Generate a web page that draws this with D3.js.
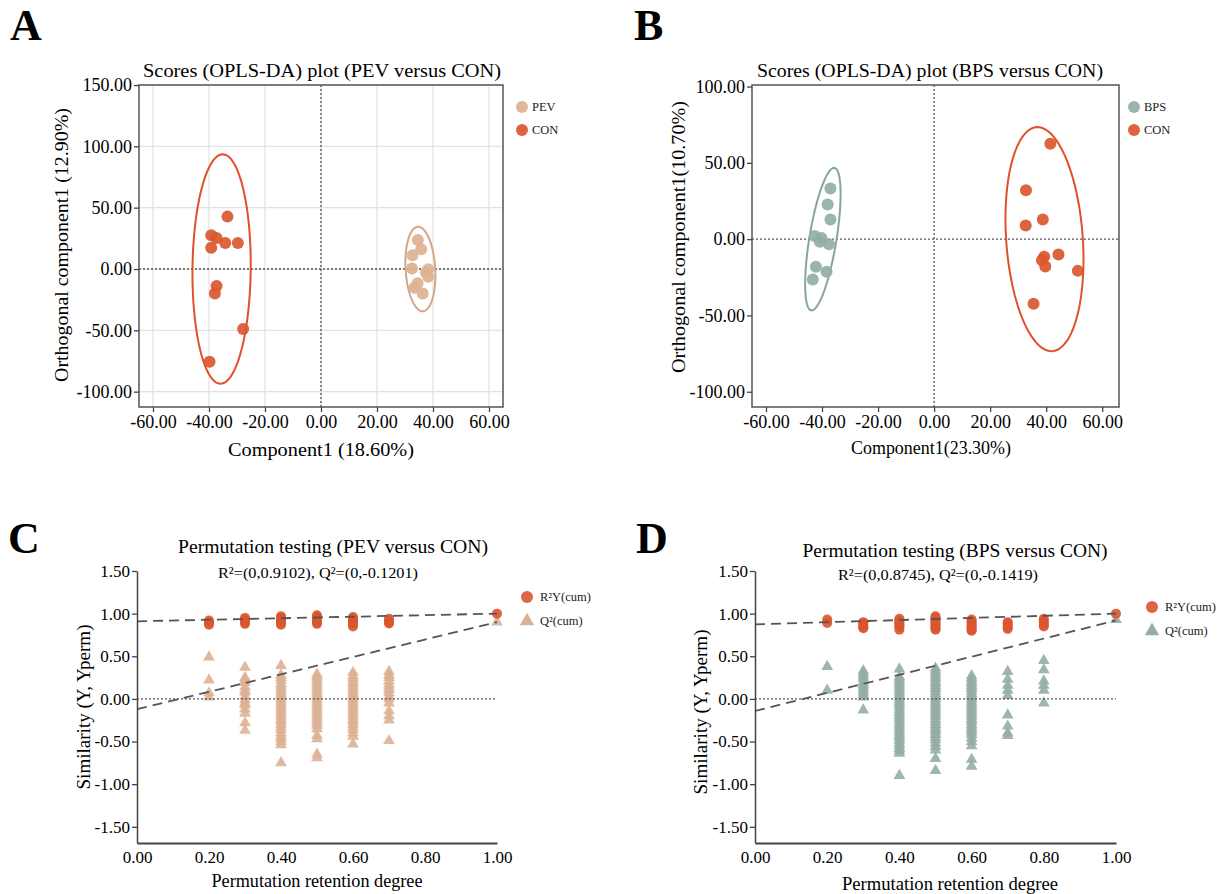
<!DOCTYPE html>
<html><head><meta charset="utf-8">
<script src="https://cdn.jsdelivr.net/npm/d3@7"></script>
<style>
body{margin:0;background:#fff;}
svg{display:block;font-family:"Liberation Serif","Times New Roman",serif;}
</style>
</head><body>
<svg id="chart" width="1217" height="894"></svg>
<script>
// ---------------- DATA ----------------
const scoreXTicks = [-60, -40, -20, 0, 20, 40, 60];
const scoreYTicksA = [150, 100, 50, 0, -50, -100];
const scoreYTicksB = [100, 50, 0, -50, -100];
const permXTicks = [0, 0.2, 0.4, 0.6, 0.8, 1.0];
const permYTicks = [1.5, 1.0, 0.5, 0, -0.5, -1.0, -1.5];

// Panel A scores [component1, orthogonal component1]
const pevScoresA = [[34.6,23.7],[35.8,16.1],[32.7,11.2],[32.5,0.5],[38.3,-0.3],[37.5,-3.0],[38.3,-6.3],[34.5,-11.7],[33.4,-15.2],[36.3,-19.9]];
const conScoresA = [[-33.4,42.7],[-39.2,27.5],[-37.3,25.3],[-39.2,17.4],[-34.2,21.2],[-29.7,21.2],[-37.3,-13.9],[-37.9,-19.9],[-27.8,-48.9],[-39.8,-75.6]];
// Panel B scores
const bpsScoresB = [[-37.0,33.2],[-38.0,22.7],[-37.0,12.9],[-42.6,2.0],[-40.2,0.7],[-40.8,-1.7],[-37.5,-3.3],[-42.2,-18.1],[-38.4,-21.4],[-43.3,-26.5]];
const conScoresB = [[41.5,62.5],[32.8,32.1],[38.8,12.9],[32.7,9.0],[44.4,-10.1],[39.3,-11.6],[38.5,-13.8],[39.7,-17.9],[51.3,-20.8],[35.5,-42.4]];
// Confidence ellipses: [centerX, centerY, halfWidth, halfHeight, topShift]
const ellipsePevA = [35.5, 0, 5.3, 34.4, -0.8];
const ellipseConA = [-35.5, 0, 10.4, 93.5, 0.4];
const ellipseBpsB = [-39.7, 0, 4.9, 46.7, 4.0];
const ellipseConB = [39.4, 0, 13.7, 73.4, -2.5];

// Panel C permutation: [retention degree, values]
const r2C = [
  [0.2, [0.92, 0.90, 0.89, 0.87]],
  [0.3, [0.95, 0.93, 0.91, 0.90, 0.88]],
  [0.4, [0.97, 0.95, 0.93, 0.91, 0.89, 0.87]],
  [0.5, [0.98, 0.96, 0.94, 0.92, 0.90, 0.88]],
  [0.6, [0.96, 0.94, 0.92, 0.90, 0.88, 0.85]],
  [0.7, [0.94, 0.92, 0.90, 0.885]],
  [1.0, [1.0]]
];
const q2C = [
  [0.2, [0.49, 0.22, 0.07, 0.02]],
  [0.3, [0.37, 0.25, 0.22, 0.19, 0.14, 0.10, 0.08, 0.03, -0.01, -0.05, -0.07, -0.12, -0.17, -0.28, -0.37]],
  [0.4, [0.39, 0.28, 0.25, 0.22, 0.18, 0.15, 0.12, 0.09, 0.06, 0.03, 0.0, -0.03, -0.06, -0.09, -0.12, -0.15, -0.18, -0.21, -0.24, -0.27, -0.30, -0.33, -0.36, -0.40, -0.44, -0.47, -0.50, -0.54, -0.75]],
  [0.5, [0.29, 0.26, 0.23, 0.20, 0.17, 0.14, 0.11, 0.08, 0.05, 0.02, -0.01, -0.04, -0.07, -0.10, -0.13, -0.16, -0.19, -0.22, -0.25, -0.28, -0.31, -0.35, -0.43, -0.47, -0.65, -0.69]],
  [0.6, [0.31, 0.27, 0.24, 0.21, 0.18, 0.15, 0.12, 0.09, 0.06, 0.03, 0.0, -0.03, -0.06, -0.09, -0.12, -0.15, -0.18, -0.21, -0.24, -0.27, -0.30, -0.33, -0.36, -0.40, -0.44, -0.53]],
  [0.7, [0.32, 0.28, 0.25, 0.21, 0.17, 0.14, 0.11, 0.07, 0.03, 0.0, -0.05, -0.14, -0.20, -0.25, -0.49]],
  [1.0, [0.90]]
];
const r2LineC = [[0, 0.9102], [1, 1.0]];
const q2LineC = [[0, -0.1201], [1, 0.90]];

// Panel D permutation
const r2D = [
  [0.2, [0.93, 0.89]],
  [0.3, [0.90, 0.88, 0.86, 0.84, 0.83]],
  [0.4, [0.94, 0.92, 0.90, 0.88, 0.86, 0.84, 0.81]],
  [0.5, [0.97, 0.95, 0.93, 0.91, 0.89, 0.87, 0.85, 0.83, 0.81]],
  [0.6, [0.93, 0.91, 0.89, 0.87, 0.85, 0.83, 0.81, 0.80]],
  [0.7, [0.90, 0.88, 0.86, 0.84, 0.82]],
  [0.8, [0.94, 0.92, 0.90, 0.87, 0.85]],
  [1.0, [1.0]]
];
const q2D = [
  [0.2, [0.38, 0.10]],
  [0.3, [0.33, 0.30, 0.27, 0.24, 0.20, 0.17, 0.14, 0.11, 0.08, 0.05, 0.02, -0.13]],
  [0.4, [0.35, 0.26, 0.23, 0.20, 0.17, 0.14, 0.11, 0.08, 0.05, 0.02, -0.01, -0.04, -0.07, -0.10, -0.13, -0.16, -0.19, -0.22, -0.25, -0.28, -0.31, -0.34, -0.37, -0.40, -0.43, -0.46, -0.49, -0.52, -0.55, -0.58, -0.61, -0.64, -0.90]],
  [0.5, [0.36, 0.33, 0.30, 0.27, 0.24, 0.21, 0.18, 0.15, 0.12, 0.09, 0.06, 0.03, 0.0, -0.03, -0.06, -0.09, -0.12, -0.15, -0.18, -0.21, -0.24, -0.27, -0.30, -0.33, -0.36, -0.39, -0.42, -0.45, -0.48, -0.52, -0.56, -0.60, -0.70, -0.84]],
  [0.6, [0.27, 0.24, 0.21, 0.18, 0.15, 0.12, 0.09, 0.06, 0.03, 0.0, -0.03, -0.06, -0.09, -0.12, -0.15, -0.18, -0.21, -0.24, -0.27, -0.30, -0.33, -0.36, -0.39, -0.42, -0.46, -0.50, -0.55, -0.71, -0.79]],
  [0.7, [0.32, 0.23, 0.16, 0.10, 0.04, -0.19, -0.32, -0.40, -0.43]],
  [0.8, [0.45, 0.34, 0.21, 0.16, 0.10, -0.05]],
  [1.0, [0.93]]
];
const r2LineD = [[0, 0.8745], [1, 1.0]];
const q2LineD = [[0, -0.1419], [1, 0.92]];

// ---------------- STYLE ----------------
const RED = "#D9572F", RED_LINE = "#E0502A";
const TAN = "#DDB193", TAN_LINE = "#D6A487";
const SAGE = "#93AEA5", SAGE_LINE = "#86A69C";
const AXIS = "#444";

const svg = d3.select("#chart");
const fmt = d => d.toFixed(2);

function styleAxis(g, fs) {
  g.selectAll("text").attr("font-family", '"Liberation Serif","Times New Roman",serif')
    .attr("font-size", fs).attr("fill", "#000");
  g.selectAll("line").attr("stroke", AXIS).attr("stroke-width", 1.3);
  g.attr("font-family", null).attr("font-size", null);
}

function label(g, txt, x, y, fs, len, rotate) {
  const t = g.append("text").attr("text-anchor", "middle").attr("font-size", fs).attr("fill", "#000")
    .attr("textLength", len).attr("lengthAdjust", "spacingAndGlyphs").text(txt);
  if (rotate) t.attr("transform", `translate(${x},${y}) rotate(-90)`);
  else t.attr("x", x).attr("y", y);
  return t;
}

function panelLetter(t, x, y) {
  svg.append("text").attr("x", x).attr("y", y).attr("font-size", 44).attr("font-weight", "bold")
    .attr("fill", "#000").text(t);
}

function scorePanel(cfg) {
  const g = svg.append("g");
  const x = d3.scaleLinear().domain(cfg.xDomain).range(cfg.xRange);
  const y = d3.scaleLinear().domain(cfg.yDomain).range(cfg.yRange);
  const [x0, x1] = cfg.xRange, [y0, y1] = cfg.yRange;

  if (cfg.grid) {
    g.selectAll(".gx").data(scoreXTicks).join("line")
      .attr("x1", d => x(d)).attr("x2", d => x(d)).attr("y1", y0).attr("y2", y1)
      .attr("stroke", "#e2e2e2").attr("stroke-width", 1.2);
    g.selectAll(".gy").data(cfg.yTicks).join("line")
      .attr("y1", d => y(d)).attr("y2", d => y(d)).attr("x1", x0).attr("x2", x1)
      .attr("stroke", "#e2e2e2").attr("stroke-width", 1.2);
  }
  g.append("line").attr("x1", x(0)).attr("x2", x(0)).attr("y1", y0).attr("y2", y1)
    .attr("stroke", "#555").attr("stroke-width", 1.3).attr("stroke-dasharray", "2,2");
  g.append("line").attr("y1", y(0)).attr("y2", y(0)).attr("x1", x0).attr("x2", x1)
    .attr("stroke", "#555").attr("stroke-width", 1.3).attr("stroke-dasharray", "2,2");

  const line = d3.line().x(p => x(p[0])).y(p => y(p[1])).curve(d3.curveLinearClosed);
  cfg.groups.forEach(gr => {
    const [cx, cy, rx, ry, sh] = gr.ellipse;
    const pts = d3.range(0, 120).map(i => {
      const t = i / 120 * 2 * Math.PI;
      return [cx + rx * Math.cos(t) + sh * Math.sin(t), cy + ry * Math.sin(t)];
    });
    g.append("path").attr("d", line(pts)).attr("fill", "none")
      .attr("stroke", gr.lineColor).attr("stroke-width", 2);
  });
  cfg.groups.forEach(gr => {
    g.selectAll(null).data(gr.points).join("circle")
      .attr("cx", d => x(d[0])).attr("cy", d => y(d[1])).attr("r", 6)
      .attr("fill", gr.color).attr("fill-opacity", 0.92);
  });
  g.append("rect").attr("x", x0).attr("y", y1).attr("width", x1 - x0).attr("height", y0 - y1)
    .attr("fill", "none").attr("stroke", "#555").attr("stroke-width", 1.5);

  const ax = g.append("g").attr("transform", `translate(0,${y0})`)
    .call(d3.axisBottom(x).tickValues(scoreXTicks).tickFormat(fmt).tickSize(5).tickPadding(3));
  ax.select(".domain").remove();
  styleAxis(ax, 18);
  const ay = g.append("g").attr("transform", `translate(${x0},0)`)
    .call(d3.axisLeft(y).tickValues(cfg.yTicks).tickFormat(fmt).tickSize(5).tickPadding(2));
  ay.select(".domain").remove();
  styleAxis(ay, 18);

  label(g, cfg.title, cfg.titleX, cfg.titleY, 19, cfg.titleLen);
  label(g, cfg.xLabel, cfg.xLabelX, cfg.xLabelY, 19, cfg.xLabelLen);
  label(g, cfg.yLabel, cfg.yLabelX, cfg.yLabelY, 19, cfg.yLabelLen, true);

  cfg.groups.forEach((gr, i) => {
    const ly = cfg.legendY + i * 23;
    g.append("circle").attr("cx", cfg.legendX).attr("cy", ly).attr("r", 6)
      .attr("fill", gr.color).attr("fill-opacity", 0.92);
    g.append("text").attr("x", cfg.legendX + 10).attr("y", ly + 4).attr("font-size", 12.5)
      .attr("fill", "#222").text(gr.name);
  });
}

function permPanel(cfg) {
  const g = svg.append("g");
  const x = d3.scaleLinear().domain([0, 1]).range(cfg.xRange);
  const y = d3.scaleLinear().domain([-1.69, 1.5]).range(cfg.yRange);
  const [x0, x1] = cfg.xRange, [y0, y1] = cfg.yRange;
  const tri = d3.symbol().type(d3.symbolTriangle).size(60);

  const q2pts = cfg.q2.flatMap(([px, vals]) => vals.map(v => [px, v]));
  const r2pts = cfg.r2.flatMap(([px, vals]) => vals.map(v => [px, v]));
  g.selectAll(null).data(q2pts).join("path").attr("d", tri)
    .attr("transform", d => `translate(${x(d[0])},${y(d[1])})`)
    .attr("fill", cfg.q2Color).attr("fill-opacity", 0.9);
  g.selectAll(null).data(r2pts).join("circle")
    .attr("cx", d => x(d[0])).attr("cy", d => y(d[1])).attr("r", 5)
    .attr("fill", RED).attr("fill-opacity", 0.9);

  g.append("line").attr("x1", x(0)).attr("x2", x(1)).attr("y1", y(0)).attr("y2", y(0))
    .attr("stroke", "#555").attr("stroke-width", 1.3).attr("stroke-dasharray", "2,2");
  const ln = d3.line().x(p => x(p[0])).y(p => y(p[1]));
  [cfg.r2Line, cfg.q2Line].forEach(L => {
    g.append("path").attr("d", ln(L)).attr("fill", "none").attr("stroke", "#555")
      .attr("stroke-width", 1.8).attr("stroke-dasharray", "10,6");
  });

  const ax = g.append("g").attr("transform", `translate(0,${y0})`)
    .call(d3.axisBottom(x).tickValues(permXTicks).tickFormat(fmt).tickSize(0).tickPadding(8));
  ax.select(".domain").attr("stroke", AXIS).attr("stroke-width", 2.2);
  styleAxis(ax, 17);
  const ay = g.append("g").attr("transform", `translate(${x0},0)`)
    .call(d3.axisLeft(y).tickValues(permYTicks).tickFormat(fmt).tickSize(5).tickSizeOuter(0).tickPadding(2));
  ay.select(".domain").attr("stroke", AXIS).attr("stroke-width", 1.5);
  styleAxis(ay, 17);

  label(g, cfg.title, cfg.titleX, cfg.titleY, 19, cfg.titleLen);
  label(g, cfg.sub, cfg.subX, cfg.subY, 15.5, cfg.subLen);
  label(g, "Permutation retention degree", cfg.xLabelX, cfg.xLabelY, 19, cfg.xLabelLen);
  label(g, "Similarity (Y, Yperm)", cfg.yLabelX, cfg.yLabelY, 19, cfg.yLabelLen, true);

  g.append("circle").attr("cx", cfg.legendX).attr("cy", cfg.legendY).attr("r", 6)
    .attr("fill", RED).attr("fill-opacity", 0.9);
  g.append("text").attr("x", cfg.legendX + 13).attr("y", cfg.legendY + 4).attr("font-size", 12.5)
    .attr("fill", "#222").text("R²Y(cum)");
  g.append("path").attr("d", d3.symbol().type(d3.symbolTriangle).size(90)())
    .attr("transform", `translate(${cfg.legendX},${cfg.legendY + 24})`).attr("fill", cfg.q2Color);
  g.append("text").attr("x", cfg.legendX + 13).attr("y", cfg.legendY + 28).attr("font-size", 12.5)
    .attr("fill", "#222").text("Q²(cum)");
}

// ---------------- PANELS ----------------
panelLetter("A", 10, 40);
panelLetter("B", 634, 40);
panelLetter("C", 8, 553);
panelLetter("D", 636, 553);

scorePanel({
  xDomain: [-65, 65], xRange: [139, 503], yDomain: [-112.5, 150], yRange: [407, 85],
  yTicks: scoreYTicksA, grid: true,
  title: "Scores (OPLS-DA) plot (PEV versus CON)", titleX: 322, titleY: 77, titleLen: 358,
  xLabel: "Component1 (18.60%)", xLabelX: 321, xLabelY: 456, xLabelLen: 186,
  yLabel: "Orthogonal component1 (12.90%)", yLabelX: 68, yLabelY: 245, yLabelLen: 274,
  legendX: 522, legendY: 107,
  groups: [
    {name: "PEV", points: pevScoresA, ellipse: ellipsePevA, color: TAN, lineColor: TAN_LINE},
    {name: "CON", points: conScoresA, ellipse: ellipseConA, color: RED, lineColor: RED_LINE}
  ]
});

scorePanel({
  xDomain: [-65, 66], xRange: [752, 1119], yDomain: [-110, 101], yRange: [407, 85],
  yTicks: scoreYTicksB, grid: false,
  title: "Scores (OPLS-DA) plot (BPS versus CON)", titleX: 930, titleY: 77, titleLen: 346,
  xLabel: "Component1(23.30%)", xLabelX: 931, xLabelY: 454, xLabelLen: 160,
  yLabel: "Orthogonal component1(10.70%)", yLabelX: 685, yLabelY: 237, yLabelLen: 272,
  legendX: 1134, legendY: 107,
  groups: [
    {name: "BPS", points: bpsScoresB, ellipse: ellipseBpsB, color: SAGE, lineColor: SAGE_LINE},
    {name: "CON", points: conScoresB, ellipse: ellipseConB, color: RED, lineColor: RED_LINE}
  ]
});

permPanel({
  xRange: [137, 497], yRange: [843, 571],
  r2: r2C, q2: q2C, r2Line: r2LineC, q2Line: q2LineC, q2Color: TAN,
  title: "Permutation testing (PEV versus CON)", titleX: 333, titleY: 553, titleLen: 310,
  sub: "R²=(0,0.9102), Q²=(0,-0.1201)", subX: 318, subY: 578, subLen: 200,
  xLabelX: 317, xLabelY: 887, xLabelLen: 211, yLabelX: 90, yLabelY: 707, yLabelLen: 165,
  legendX: 527, legendY: 597
});

permPanel({
  xRange: [755, 1116], yRange: [843, 571],
  r2: r2D, q2: q2D, r2Line: r2LineD, q2Line: q2LineD, q2Color: SAGE,
  title: "Permutation testing (BPS versus CON)", titleX: 955, titleY: 557, titleLen: 305,
  sub: "R²=(0,0.8745), Q²=(0,-0.1419)", subX: 938, subY: 580, subLen: 200,
  xLabelX: 950, xLabelY: 890, xLabelLen: 216, yLabelX: 707, yLabelY: 712, yLabelLen: 165,
  legendX: 1152, legendY: 607
});
</script>
</body></html>
